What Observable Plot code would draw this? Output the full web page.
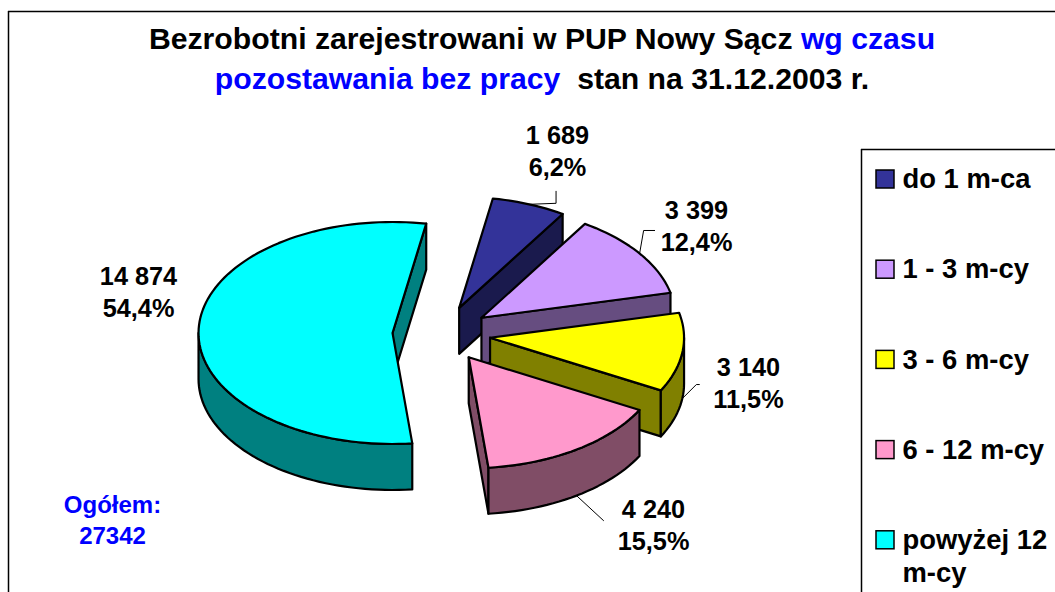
<!DOCTYPE html>
<html><head><meta charset="utf-8">
<script src="https://cdn.jsdelivr.net/npm/d3@7"></script>
<script src="https://cdn.jsdelivr.net/npm/@observablehq/plot@0.6"></script>
<style>
html,body{margin:0;padding:0;background:#fff;overflow:hidden}
#wrap{position:relative;width:1055px;height:592px;font-family:"Liberation Sans",Arial,sans-serif}
#title{position:absolute;left:0;top:19px;width:1084px;text-align:center;font-weight:bold;font-size:30.2px;line-height:40px;white-space:pre;color:#000}
#title span{color:#0000ff}
svg{display:block}
</style></head><body>
<div id="wrap">
<div id="title">Bezrobotni zarejestrowani w PUP Nowy Sącz <span>wg czasu</span>
<span>pozostawania bez pracy</span>  stan na 31.12.2003 r.</div>
</div>
<script>
const categories = ["do 1 m-ca","1 - 3 m-cy","3 - 6 m-cy","6 - 12 m-cy","powyżej 12\nm-cy"];
const values = [1689,3399,3140,4240,14874];
const percentLabels = ["6,2%","12,4%","11,5%","15,5%","54,4%"];
const valueLabels = ["1 689","3 399","3 140","4 240","14 874"];
const topColors = ["#333399","#cc99ff","#ffff00","#ff99cc","#00ffff"];
const wallColors = ["#1a1a4d","#664d80","#808000","#804d66","#008080"];
const totalLabel = "Ogółem:\n27342";

// layout of the 3D pie (pixels)
const pie = {cx:441, cy:333.5, rx:194, ry:111, depth:46, explode:49, start:10};
const labelPos = [[557,149],[696,224],[748,381],[653,523],[138,290]];
const elbows = [[[27,-1],[27,-13]],[[4,-23],[15,-23]],[[14,-14],[17,-14]],[[27,25]],[]];

const total = d3.sum(values);
const rad = d => d*Math.PI/180;
let acc = pie.start;
const slices = values.map((v,i)=>{
  const s = acc, e = acc + v/total*360; acc = e;
  const m = (s+e)/2;
  const ox = pie.cx + pie.explode*Math.sin(rad(m));
  const oy = pie.cy - pie.explode*Math.cos(rad(m))*pie.ry/pie.rx;
  return {i,s,e,m,ox,oy};
});
const arcPt = (sl,a,dz=0)=>({x:sl.ox+pie.rx*Math.sin(rad(a)), y:sl.oy-pie.ry*Math.cos(rad(a))+dz});
const arcRange = (sl,a,b,dz=0)=>{
  const n = Math.max(2,Math.ceil((b-a)/2));
  return d3.range(n+1).map(k=>arcPt(sl,a+(b-a)*k/n,dz));
};
const faces = [];
const addFace = (id,fill,pts)=>{
  const closed = [...pts,pts[0]];
  closed.forEach(p=>faces.push({id,fill,x:p.x,y:p.y}));
};
slices.forEach(sl=>{
  const {i,s,e,ox,oy} = sl, d = pie.depth;
  const end = arcPt(sl,e);
  addFace(`r${i}`,wallColors[i],[{x:ox,y:oy},end,{x:end.x,y:end.y+d},{x:ox,y:oy+d}]);
  const a = Math.max(s,90), b = Math.min(e,270);
  if (b>a) addFace(`o${i}`,wallColors[i],[...arcRange(sl,a,b),...arcRange(sl,a,b,d).reverse()]);
  addFace(`t${i}`,topColors[i],[{x:ox,y:oy},...arcRange(sl,s,e)]);
});
const leaders = [];
slices.forEach(sl=>{
  if(!elbows[sl.i].length) return;
  const lower = sl.m>90 && sl.m<270;
  const p = arcPt(sl,sl.m,lower?pie.depth:0);
  leaders.push({id:sl.i,x:p.x,y:p.y});
  elbows[sl.i].forEach(o=>leaders.push({id:sl.i,x:p.x+o[0],y:p.y+o[1]}));
});
const labels = values.map((v,i)=>({text:valueLabels[i]+"\n"+percentLabels[i],x:labelPos[i][0],y:labelPos[i][1]}));
const legendRow = i=>179+i*90.2;
const legend = categories.map((c,i)=>({c,fill:topColors[i],y:legendRow(i)}));

const chart = Plot.plot({
  width:1055,height:592,margin:0,
  x:{domain:[0,1055],range:[0,1055],axis:null},
  y:{domain:[0,592],range:[0,592],axis:null},
  color:{type:"identity"},
  marks:[
    Plot.ruleX([8],{y1:11,y2:592,stroke:"#000",strokeWidth:1.5}),
    Plot.ruleY([11],{x1:8,x2:1055,stroke:"#000",strokeWidth:1.5}),
    Plot.ruleX([861],{y1:149,y2:592,stroke:"#000",strokeWidth:1.5}),
    Plot.ruleY([149],{x1:861,x2:1055,stroke:"#000",strokeWidth:1.5}),
    Plot.line(leaders,{x:"x",y:"y",z:"id",stroke:"#000",strokeWidth:1,curve:"linear"}),
    Plot.line(faces,{x:"x",y:"y",z:"id",fill:"fill",stroke:"#000",strokeWidth:2.2,strokeLinejoin:"round",curve:"linear"}),
    Plot.text(labels,{x:"x",y:"y",text:"text",fontFamily:"Liberation Sans",fontWeight:"bold",fontSize:25.3,lineHeight:1.3,fill:"#000"}),
    Plot.text([totalLabel],{x:()=>112,y:()=>518,text:d=>d,fontFamily:"Liberation Sans",fontWeight:"bold",fontSize:24,lineHeight:1.3,fill:"#0000ff"}),
    Plot.rect(legend,{x1:()=>876,x2:()=>894,y1:d=>d.y-9,y2:d=>d.y+9,fill:"fill",stroke:"#000",strokeWidth:1.5}),
    Plot.text(legend,{x:()=>902,y:d=>d.y,text:"c",lineAnchor:"top",dy:-15,textAnchor:"start",fontFamily:"Liberation Sans",fontWeight:"bold",fontSize:27.4,lineHeight:1.22,fill:"#000"})
  ]
});
document.getElementById("wrap").prepend(chart);
</script>
</body></html>
